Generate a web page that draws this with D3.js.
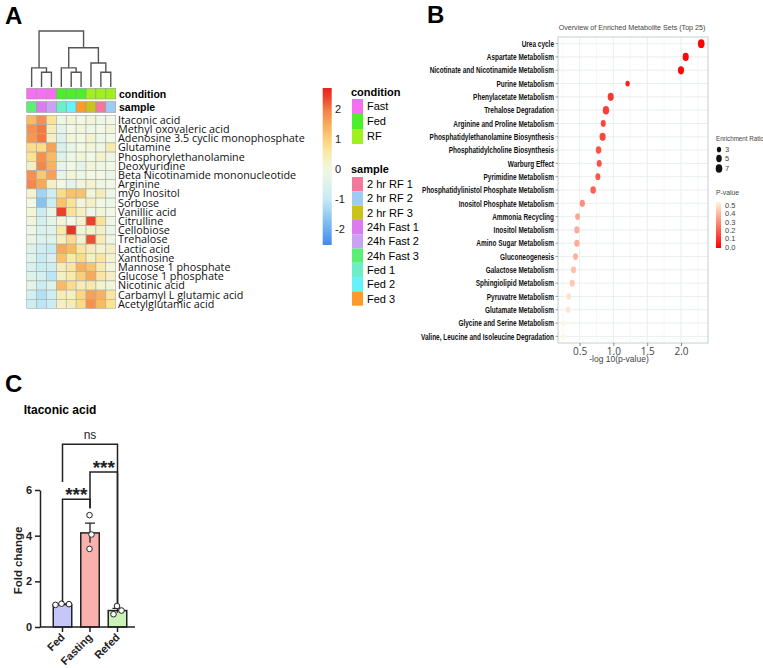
<!DOCTYPE html>
<html>
<head>
<meta charset="utf-8">
<script src="https://cdn.jsdelivr.net/npm/d3@7"></script>
<style>
  body { margin: 0; background: #fff; }
  text { font-family: "Liberation Sans", Arial, sans-serif; }
</style>
</head>
<body>
<div id="fig"></div>
<script>
// ---------- data: panel A (heatmap) ----------
const metabolites = ["Itaconic acid", "Methyl oxovaleric acid", "Adenosine 3.5 cyclic monophosphate", "Glutamine",
  "Phosphorylethanolamine", "Deoxyuridine", "Beta Nicotinamide mononucleotide", "Arginine", "myo Inositol",
  "Sorbose", "Vanillic acid", "Citrulline", "Cellobiose", "Trehalose", "Lactic acid", "Xanthosine",
  "Mannose 1 phosphate", "Glucose 1 phosphate", "Nicotinic acid", "Carbamyl L glutamic acid", "Acetylglutamic acid"];
const samples = ["24h Fast 3", "24h Fast 1", "24h Fast 2", "Fed 1", "Fed 2", "Fed 3", "2 hr RF 3", "2 hr RF 1", "2 hr RF 2"];
const conditions = ["Fast", "Fast", "Fast", "Fed", "Fed", "Fed", "RF", "RF", "RF"];
const zscores = [
  [1.3, 1.8, 0.7, -0.1, 0.1, 0.0, 0.1, -0.1, 0.0],
  [1.8, 2.0, 0.4, -0.3, 0.0, 0.1, -0.1, 0.0, 0.1],
  [1.7, 2.0, 0.3, -0.5, 0.1, 0.0, 0.2, -0.1, 0.0],
  [0.8, 0.8, 1.6, -0.6, -0.2, 0.0, 0.1, -0.1, 0.5],
  [0.7, 1.8, 1.3, -0.4, -0.1, 0.1, 0.0, 0.2, -0.1],
  [0.3, 1.9, 1.4, -0.2, 0.0, -0.3, 0.1, -0.1, 0.0],
  [1.8, 1.1, 1.6, -0.2, 0.1, -0.1, 0.0, 0.0, -0.2],
  [1.9, 1.5, 0.3, 0.0, -0.3, 0.1, 0.2, -0.1, 0.0],
  [0.2, -1.4, -0.8, 0.8, 1.2, 1.2, 0.1, 0.4, -0.1],
  [0.0, -1.7, -0.9, 1.2, 0.7, 0.1, 0.3, 0.0, -0.1],
  [0.1, -0.9, -0.2, 2.4, 0.7, 0.3, -0.1, 0.1, 0.0],
  [0.1, -0.7, -0.3, 0.1, 0.0, 0.2, 2.4, 0.7, -0.1],
  [-0.1, -0.6, -0.4, 0.5, 2.5, 0.1, 0.2, 0.3, -0.2],
  [-0.2, -0.5, -0.4, 0.3, 0.8, 0.2, 2.3, 0.4, -0.1],
  [-0.5, -0.8, -1.0, 1.5, 1.3, 0.6, 0.4, 0.2, 0.3],
  [-0.4, -1.0, -0.6, 1.2, 0.5, 0.8, 0.3, 0.6, 0.2],
  [-0.6, -0.9, -0.8, 0.4, 0.6, 1.4, 1.2, 0.5, 0.1],
  [-0.5, -0.7, -1.1, 0.3, 0.5, 1.0, 1.5, 0.6, 0.3],
  [-0.3, -0.9, -0.5, 1.3, 0.8, 0.4, 0.5, 0.2, 0.1],
  [-0.7, -1.2, -0.8, 0.4, 0.3, 0.9, 1.6, 1.4, 0.6],
  [-0.8, -1.1, -0.9, 0.3, 0.4, 0.8, 1.8, 1.3, 0.7]
];
// column dendrogram: [left, right, height], leaves = column index
const dendrogram = [[0, [1, 2, 1.5], 1.95], [[3, [4, 5, 1.5], 1.95], [6, [7, 8, 1.5], 2.45], 4.0], 5.7];
const conditionLevels = ["Fast", "Fed", "RF"];
const conditionColors = ["#f86ef0", "#4cef2b", "#9ff01c"];
const sampleLevels = ["2 hr RF 1", "2 hr RF 2", "2 hr RF 3", "24h Fast 1", "24h Fast 2", "24h Fast 3", "Fed 1", "Fed 2", "Fed 3"];
const sampleColors = ["#f5789c", "#9ccbf3", "#c9c31a", "#dc7af0", "#cba1f3", "#5cef78", "#6cefc6", "#66f2fa", "#fd9a2a"];
const colorTicks = [2, 1, 0, -1, -2];

// ---------- data: panel B (enrichment) ----------
const pathways = ["Urea cycle", "Aspartate Metabolism", "Nicotinate and Nicotinamide Metabolism", "Purine Metabolism",
  "Phenylacetate Metabolism", "Trehalose Degradation", "Arginine and Proline Metabolism",
  "Phosphatidylethanolamine Biosynthesis", "Phosphatidylcholine Biosynthesis", "Warburg Effect",
  "Pyrimidine Metabolism", "Phosphatidylinistol Phosphate Metabolism", "Inositol Phosphate Metabolism",
  "Ammonia Recycling", "Inositol Metabolism", "Amino Sugar Metabolism", "Gluconeogenesis",
  "Galactose Metabolism", "Sphingiolipid Metabolism", "Pyruvatre Metabolism", "Glutamate Metabolism",
  "Glycine and Serine Metabolism", "Valine, Leucine and Isoleucine Degradation"];
const logP = [2.30, 2.07, 2.00, 1.21, 0.96, 0.89, 0.85, 0.84, 0.78, 0.79, 0.77, 0.70, 0.54, 0.47, 0.46, 0.46,
  0.44, 0.41, 0.39, 0.34, 0.33, 0.27, 0.26];
const enrichRatio = [7, 6, 6, 3, 6, 6.5, 4, 6, 5, 4, 4, 5, 4.5, 4, 4.5, 4.5, 4, 4, 4, 3.5, 3.5, 2.5, 2.5];
const logPTicks = [0.5, 1.0, 1.5, 2.0];
const ratioLegend = [3, 5, 7];
const pLegend = [0.5, 0.4, 0.3, 0.2, 0.1, 0.0];

// ---------- data: panel C (bar chart) ----------
const groups = ["Fed", "Fasting", "Refed"];
const meanFC = [0.98, 4.12, 0.72];
const semFC = [0.03, 0.43, 0.1];
const replicates = [[0.97, 1.02, 1.0], [4.9, 4.05, 3.42], [0.92, 0.56, 0.72]];
const barColors = ["#c4c7f7", "#f9b1ae", "#c9f3b9"];
const fcTicks = [0, 2, 4, 6];
const comparisons = [
  { a: 0, b: 1, level: 5.6, legA: 1.1, legB: 5.2, label: "***" },
  { a: 1, b: 2, level: 6.79, legA: 5.2, legB: 1.05, label: "***" },
  { a: 0, b: 2, level: 8.0, legA: 6.35, legB: 1.05, label: "ns" }
];

const svg = d3.select("#fig").append("svg").attr("width", 763).attr("height", 668)
  .style("background", "#fff");

// panel letters
svg.append("text").attr("x", 5).attr("y", 24).text("A").attr("font-size", 24).attr("font-weight", "bold");
svg.append("text").attr("x", 427).attr("y", 23).text("B").attr("font-size", 24).attr("font-weight", "bold");
svg.append("text").attr("x", 5).attr("y", 392).text("C").attr("font-size", 24).attr("font-weight", "bold");

// ================= Panel A =================
const hmX = d3.scaleBand().domain(d3.range(samples.length)).range([26.7, 115.7]);
const hmY = d3.scaleBand().domain(metabolites).range([115.3, 308.5]);
const heatColor = d3.scaleLinear()
  .domain([-2.6, -1.8, -1, 0, 0.7, 1.3, 1.9, 2.6])
  .range(["#3d84ea", "#7dbcf1", "#c6ebf5", "#f2f8e4", "#fbe396", "#f9bb62", "#f4874a", "#e8251d"])
  .clamp(true);
const condColor = d3.scaleOrdinal().domain(conditionLevels).range(conditionColors);
const sampColor = d3.scaleOrdinal().domain(sampleLevels).range(sampleColors);

const gA = svg.append("g");

// dendrogram
const dendY = d3.scaleLinear().domain([0, 5.7]).range([87, 31]);
const dendG = gA.append("g").attr("fill", "none").attr("stroke", "#555").attr("stroke-width", 1.4);
function drawNode(node) {
  if (typeof node === "number") return { x: hmX(node) + hmX.bandwidth() / 2, h: 0 };
  const l = drawNode(node[0]), r = drawNode(node[1]);
  const yy = dendY(node[2]);
  dendG.append("path").attr("d", `M${l.x},${dendY(l.h)}V${yy}H${r.x}V${dendY(r.h)}`);
  return { x: (l.x + r.x) / 2, h: node[2] };
}
drawNode(dendrogram);

// annotation bars
gA.selectAll("rect.cond").data(conditions).enter().append("rect")
  .attr("x", (d, i) => hmX(i)).attr("y", 88.3).attr("width", hmX.bandwidth()).attr("height", 10.7)
  .attr("fill", d => condColor(d)).attr("stroke", "#9a9a9a").attr("stroke-width", 0.6);
gA.selectAll("rect.samp").data(samples).enter().append("rect")
  .attr("x", (d, i) => hmX(i)).attr("y", 101.7).attr("width", hmX.bandwidth()).attr("height", 10.7)
  .attr("fill", d => sampColor(d)).attr("stroke", "#9a9a9a").attr("stroke-width", 0.6);
gA.append("text").attr("x", 119).attr("y", 97.5).text("condition")
  .attr("font-size", 10.5).attr("font-weight", "bold");
gA.append("text").attr("x", 119).attr("y", 110.8).text("sample")
  .attr("font-size", 10.5).attr("font-weight", "bold");

// cells
const cells = [];
zscores.forEach((row, r) => row.forEach((v, c) => cells.push({ r, c, v })));
gA.selectAll("rect.cell").data(cells).enter().append("rect")
  .attr("x", d => hmX(d.c)).attr("y", d => hmY(metabolites[d.r]))
  .attr("width", hmX.bandwidth()).attr("height", hmY.bandwidth())
  .attr("fill", d => heatColor(d.v)).attr("stroke", "#a8aea8").attr("stroke-width", 0.6);

gA.selectAll("text.row").data(metabolites).enter().append("text")
  .attr("x", 118).attr("y", d => hmY(d) + hmY.bandwidth() / 2)
  .attr("dy", "0.36em").text(d => d)
  .style("font-family", "'Open Sans', sans-serif").attr("font-size", 10.8).attr("fill", "#111");

// colour bar
const cbY = d3.scaleLinear().domain([2.7, -2.53]).range([88, 245]);
const defs = svg.append("defs");
const grad = defs.append("linearGradient").attr("id", "hmgrad").attr("x1", 0).attr("y1", 0).attr("x2", 0).attr("y2", 1);
d3.range(0, 1.001, 0.05).forEach(t => {
  grad.append("stop").attr("offset", t).attr("stop-color", heatColor(cbY.invert(88 + t * 157)));
});
gA.append("rect").attr("x", 322.7).attr("y", 88).attr("width", 9).attr("height", 157).attr("fill", "url(#hmgrad)");
gA.selectAll("text.cbt").data(colorTicks).enter().append("text")
  .attr("x", 335).attr("y", d => cbY(d)).attr("dy", "0.36em")
  .text(d => d < 0 ? "-" + Math.abs(d) : d).attr("font-size", 11).attr("fill", "#222");

// legends
const legX = 352;
gA.append("text").attr("x", legX - 1).attr("y", 96).text("condition").attr("font-size", 11).attr("font-weight", "bold");
gA.selectAll("g.cl").data(conditionLevels).enter().append("g").each(function (d, i) {
  const g = d3.select(this);
  g.append("rect").attr("x", legX).attr("y", 99 + i * 15).attr("width", 11).attr("height", 15).attr("fill", condColor(d));
  g.append("text").attr("x", legX + 15).attr("y", 99 + i * 15 + 7.5).attr("dy", "0.36em").text(d).attr("font-size", 11);
});
gA.append("text").attr("x", legX - 1).attr("y", 173).text("sample").attr("font-size", 11).attr("font-weight", "bold");
gA.selectAll("g.sl").data(sampleLevels).enter().append("g").each(function (d, i) {
  const g = d3.select(this);
  g.append("rect").attr("x", legX).attr("y", 177 + i * 14.3).attr("width", 11).attr("height", 14.3).attr("fill", sampColor(d));
  g.append("text").attr("x", legX + 15).attr("y", 177 + i * 14.3 + 7.2).attr("dy", "0.36em").text(d).attr("font-size", 11);
});

// ================= Panel B =================
const bx = d3.scaleLinear().domain([0.18, 2.4]).range([558, 708]);
const by = d3.scaleBand().domain(pathways).range([37, 343]);
const pColor = d3.scaleLinear().domain([0, 0.25, 0.5]).range(["#ff0000", "#fb7b6c", "#fff6dc"]).clamp(true);
const rScale = d3.scaleSqrt().domain([0, 7]).range([0, 3.3]);
const gB = svg.append("g");

gB.append("text").attr("x", 632).attr("y", 30).attr("text-anchor", "middle")
  .attr("transform", "translate(632,0) scale(0.89,1) translate(-632,0)")
  .text("Overview of Enriched Metabolite Sets (Top 25)").attr("font-size", 8).attr("fill", "#444");

// grid
const minorTicks = [0.25, 0.75, 1.25, 1.75, 2.25];
gB.selectAll("line.gmin").data(minorTicks).enter().append("line")
  .attr("x1", d => bx(d)).attr("x2", d => bx(d)).attr("y1", 37).attr("y2", 343)
  .attr("stroke", "#f3f6f6").attr("stroke-width", 0.8);
gB.selectAll("line.gmaj").data(logPTicks).enter().append("line")
  .attr("x1", d => bx(d)).attr("x2", d => bx(d)).attr("y1", 37).attr("y2", 343)
  .attr("stroke", "#e6ecec").attr("stroke-width", 0.9);
gB.selectAll("line.grow").data(pathways).enter().append("line")
  .attr("x1", 558).attr("x2", 708).attr("y1", d => by(d) + by.bandwidth() / 2).attr("y2", d => by(d) + by.bandwidth() / 2)
  .attr("stroke", "#e6ecec").attr("stroke-width", 0.9);
gB.append("rect").attr("x", 558).attr("y", 37).attr("width", 150).attr("height", 306)
  .attr("fill", "none").attr("stroke", "#c4cdcd").attr("stroke-width", 1);

// y tick marks + labels
gB.selectAll("line.yt").data(pathways).enter().append("line")
  .attr("x1", 555.5).attr("x2", 558).attr("y1", d => by(d) + by.bandwidth() / 2).attr("y2", d => by(d) + by.bandwidth() / 2)
  .attr("stroke", "#888").attr("stroke-width", 0.8);
const labG = gB.append("g").attr("transform", "translate(554,0) scale(0.72,1)");
labG.selectAll("text").data(pathways).enter().append("text")
  .attr("x", 0).attr("y", d => by(d) + by.bandwidth() / 2).attr("dy", "0.36em")
  .attr("text-anchor", "end").attr("font-size", 9).attr("font-weight", "bold").attr("fill", "#111")
  .text(d => d);

// x axis
const xAxB = gB.append("g").attr("transform", "translate(0,343)")
  .call(d3.axisBottom(bx).tickValues(logPTicks).tickFormat(d3.format(".1f")).tickSize(3));
xAxB.select(".domain").remove();
xAxB.selectAll("line").attr("stroke", "#888");
xAxB.selectAll("text").attr("font-size", 10).attr("fill", "#444").attr("dy", "0.6em")
  .style("font-family", "'Open Sans', sans-serif");
gB.append("text").attr("x", 619).attr("y", 362).attr("text-anchor", "middle")
  .text("-log 10(p-value)").attr("font-size", 8.5).attr("fill", "#444");

// dots
const dots = pathways.map((p, i) => ({ p, x: logP[i], er: enrichRatio[i] }));
gB.selectAll("ellipse.dot").data(dots).enter().append("ellipse")
  .attr("cx", d => bx(d.x)).attr("cy", d => by(d.p) + by.bandwidth() / 2)
  .attr("rx", d => rScale(d.er)).attr("ry", d => rScale(d.er) * 1.35)
  .attr("fill", d => pColor(Math.pow(10, -d.x)));

// legends
gB.append("text").attr("x", 716).attr("y", 141).text("Enrichment Ratio")
  .attr("transform", "translate(716,0) scale(0.78,1) translate(-716,0)")
  .attr("font-size", 8).attr("fill", "#444");
gB.selectAll("g.erl").data(ratioLegend).enter().append("g").each(function (d, i) {
  const g = d3.select(this);
  const cy = [149.5, 158.5, 168.5][i];
  g.append("ellipse").attr("cx", 719).attr("cy", cy).attr("rx", rScale(d)).attr("ry", rScale(d) * 1.3).attr("fill", "#111");
  g.append("text").attr("x", 725).attr("y", cy).attr("dy", "0.36em").text(d).attr("font-size", 7.5).attr("fill", "#444");
});
gB.append("text").attr("x", 716).attr("y", 195).text("P-value")
  .attr("transform", "translate(716,0) scale(0.85,1) translate(-716,0)")
  .attr("font-size", 8).attr("fill", "#444");
const pY = d3.scaleLinear().domain([0.5, 0]).range([205, 247]);
const pgrad = defs.append("linearGradient").attr("id", "pgrad").attr("x1", 0).attr("y1", 0).attr("x2", 0).attr("y2", 1);
d3.range(0, 1.001, 0.1).forEach(t => pgrad.append("stop").attr("offset", t).attr("stop-color", pColor(0.5 - t * 0.5)));
gB.append("rect").attr("x", 716).attr("y", 202).attr("width", 5).attr("height", 46).attr("fill", "url(#pgrad)");
gB.selectAll("text.pl").data(pLegend).enter().append("text")
  .attr("x", 725).attr("y", d => pY(d)).attr("dy", "0.36em").text(d => d.toFixed(1))
  .attr("font-size", 7.5).attr("fill", "#444");

// ================= Panel C =================
const cx = d3.scalePoint().domain(groups).range([62.5, 117.5]);
const cy = d3.scaleLinear().domain([0, 6]).range([627, 490]);
const barW = 18.5;
const gC = svg.append("g");

gC.append("text").attr("x", 60).attr("y", 414).attr("text-anchor", "middle")
  .text("Itaconic acid").attr("font-size", 12).attr("font-weight", "bold");

gC.selectAll("rect.bar").data(groups).enter().append("rect")
  .attr("x", d => cx(d) - barW / 2).attr("y", (d, i) => cy(meanFC[i]))
  .attr("width", barW).attr("height", (d, i) => cy(0) - cy(meanFC[i]))
  .attr("fill", (d, i) => barColors[i]).attr("stroke", "#222").attr("stroke-width", 1.5);

// error bars (mean +/- SEM)
gC.selectAll("path.err").data(groups).enter().append("path")
  .attr("d", (d, i) => {
    const x = cx(d), t = cy(meanFC[i] + semFC[i]), b = cy(meanFC[i] - semFC[i]);
    return `M${x},${b}V${t}M${x - 5},${t}H${x + 5}`;
  })
  .attr("fill", "none").attr("stroke", "#222").attr("stroke-width", 1.3);

// replicate points
const jitter = [[-7, -1, 6.5], [-0.5, 1.5, -0.5], [-0.5, -4, 4]];
const pts = [];
replicates.forEach((vals, g) => vals.forEach((v, k) => pts.push({ g, v, k })));
gC.selectAll("circle.pt").data(pts).enter().append("circle")
  .attr("cx", d => cx(groups[d.g]) + jitter[d.g][d.k]).attr("cy", d => cy(d.v)).attr("r", 2.8)
  .attr("fill", "#fff").attr("stroke", "#222").attr("stroke-width", 1);

// axes
const yAxC = gC.append("g").attr("transform", "translate(40,0)")
  .call(d3.axisLeft(cy).tickValues(fcTicks).tickFormat(d3.format("d")).tickSize(5).tickSizeOuter(0));
yAxC.select(".domain").attr("stroke", "#222").attr("stroke-width", 1.5);
yAxC.selectAll("line").attr("stroke", "#222").attr("stroke-width", 1.5);
yAxC.selectAll("text").attr("font-size", 11).attr("font-weight", "bold").attr("fill", "#222");

gC.append("line").attr("x1", 40).attr("x2", 135).attr("y1", cy(0)).attr("y2", cy(0))
  .attr("stroke", "#222").attr("stroke-width", 1.5);
gC.selectAll("line.xt").data(groups).enter().append("line")
  .attr("x1", d => cx(d)).attr("x2", d => cx(d)).attr("y1", cy(0)).attr("y2", cy(0) + 5)
  .attr("stroke", "#222").attr("stroke-width", 1.5);
gC.selectAll("text.xl").data(groups).enter().append("text")
  .attr("transform", d => `translate(${cx(d) + 3},${cy(0) + 11}) rotate(-45)`)
  .attr("text-anchor", "end").text(d => d)
  .attr("font-size", 11).attr("font-weight", "bold").attr("fill", "#222");

gC.append("text").attr("transform", `translate(22,${(cy(0) + cy(6)) / 2 + 2}) rotate(-90)`)
  .attr("text-anchor", "middle").text("Fold change")
  .attr("font-size", 11.5).attr("font-weight", "bold").attr("fill", "#222");

// significance brackets
comparisons.forEach(c => {
  const xa = cx(groups[c.a]), xb = cx(groups[c.b]), yl = cy(c.level);
  gC.append("path").attr("d", `M${xa},${cy(c.legA)}V${yl}H${xb}V${cy(c.legB)}`)
    .attr("fill", "none").attr("stroke", "#222").attr("stroke-width", 1.5);
  const isNs = c.label === "ns";
  gC.append("text").attr("x", (xa + xb) / 2).attr("y", isNs ? yl - 5.5 : yl + 2)
    .attr("text-anchor", "middle").text(c.label)
    .attr("font-size", isNs ? 12 : 19).attr("font-weight", isNs ? "normal" : "bold").attr("fill", "#222");
});
</script>
</body>
</html>
